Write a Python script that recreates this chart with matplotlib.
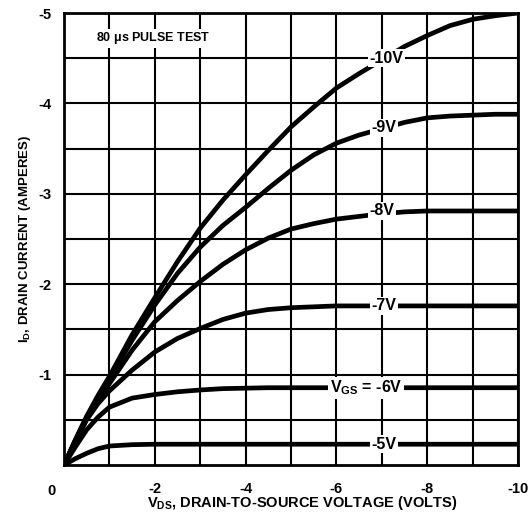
import matplotlib.pyplot as plt

plt.rcParams['font.family'] = ['Liberation Sans Narrow', 'Liberation Sans', 'DejaVu Sans']
plt.rcParams['font.weight'] = 'bold'
plt.rcParams['mathtext.default'] = 'regular'

# drain-source voltage (V) and drain current (A) for each gate voltage
vds = [0, -0.25, -0.5, -0.75, -1, -1.5, -2, -2.5, -3, -3.5, -4, -4.5, -5,
       -5.5, -6, -6.5, -7, -7.5, -8, -8.5, -9, -9.5, -10]
id_5v = [0, -0.07, -0.13, -0.18, -0.21, -0.225, -0.23, -0.23, -0.23, -0.23, -0.23, -0.23,
         -0.23, -0.23, -0.23, -0.23, -0.23, -0.23, -0.23, -0.23, -0.23, -0.23, -0.23]
id_6v = [0, -0.2, -0.39, -0.53, -0.64, -0.74, -0.78, -0.81, -0.83, -0.845, -0.85, -0.855,
         -0.855, -0.855, -0.855, -0.855, -0.855, -0.855, -0.855, -0.855, -0.855, -0.855, -0.855]
id_7v = [0, -0.26, -0.5, -0.68, -0.82, -1.05, -1.25, -1.40, -1.51, -1.61, -1.68, -1.72,
         -1.74, -1.75, -1.76, -1.76, -1.76, -1.76, -1.76, -1.76, -1.76, -1.76, -1.76]
id_8v = [0, -0.27, -0.52, -0.72, -0.9, -1.27, -1.585, -1.82, -2.03, -2.22, -2.38, -2.51,
         -2.61, -2.67, -2.72, -2.75, -2.78, -2.80, -2.81, -2.81, -2.81, -2.81, -2.81]
id_9v = [0, -0.27, -0.53, -0.75, -0.95, -1.38, -1.77, -2.12, -2.41, -2.65, -2.85, -3.06,
         -3.26, -3.43, -3.56, -3.65, -3.72, -3.79, -3.84, -3.86, -3.87, -3.88, -3.88]
id_10v = [0, -0.28, -0.54, -0.77, -0.98, -1.44, -1.85, -2.25, -2.62, -2.93, -3.21, -3.48,
          -3.74, -3.96, -4.17, -4.33, -4.48, -4.63, -4.75, -4.86, -4.93, -4.97, -5.0]

curves = [id_5v, id_6v, id_7v, id_8v, id_9v, id_10v]
labels = ['-5V', 'V$_{GS}$ = -6V', '-7V', '-8V', '-9V', '-10V']
label_x = [-7.05, -7.45, -7.05, -7.0, -7.05, -7.1]
label_y = [-0.23, -0.855, -1.76, -2.81, -3.73, -4.5]

x_ticks = [-1, -2, -3, -4, -5, -6, -7, -8, -9, -10]
x_ticklabels = ['', '-2', '', '-4', '', '-6', '', '-8', '', '-10']
y_ticks = [-0.5, -1, -1.5, -2, -2.5, -3, -3.5, -4, -4.5, -5]
y_ticklabels = ['', '-1', '', '-2', '', '-3', '', '-4', '', '-5']

fig = plt.figure(figsize=(5.32, 5.14), dpi=100)
ax = fig.add_axes([0.1203, 0.0953, 0.8534, 0.8794])

# grid drawn by hand at the tick positions
for xv in x_ticks:
    ax.plot([xv, xv], [0, -5], color='black', linewidth=1.5, zorder=2,
            solid_capstyle='butt')
for yv in y_ticks:
    ax.plot([0, -10], [yv, yv], color='black', linewidth=1.5, zorder=2,
            solid_capstyle='butt')

for cur in curves:
    ax.plot(vds, cur, color='black', linewidth=3.4, solid_capstyle='butt',
            solid_joinstyle='round', zorder=3)

for lab, lx, ly in zip(labels, label_x, label_y):
    ha = 'right' if 'GS' in lab else 'center'
    ax.text(lx, ly, lab, ha=ha, va='center', fontsize=11.5, weight='bold',
            bbox=dict(facecolor='white', edgecolor='none', pad=1.0), zorder=4)

ax.text(-0.7, -4.72, '80 $\\mu$s PULSE TEST', ha='left', va='center',
        fontsize=9, weight='bold', zorder=4,
        bbox=dict(facecolor='white', edgecolor='none', pad=1.0))

ax.set_xlim(0, -10)
ax.set_ylim(0, -5)
ax.set_xticks(x_ticks)
ax.set_xticklabels(x_ticklabels)
ax.set_yticks(y_ticks)
ax.set_yticklabels(y_ticklabels)
ax.xaxis.set_tick_params(length=0, labelsize=10.5, pad=12)
ax.yaxis.set_tick_params(length=0, labelsize=10.5, pad=9)
for t in ax.get_xticklabels() + ax.get_yticklabels():
    t.set_fontweight('bold')
for s in ax.spines.values():
    s.set_linewidth(2)
    s.set_zorder(5)

ax.annotate('0', xy=(0, 0), xytext=(-9, -18.5), textcoords='offset points',
            ha='center', va='center', fontsize=10.5, weight='bold')

ax.set_xlabel('V$_{DS}$, DRAIN-TO-SOURCE VOLTAGE (VOLTS)', fontsize=10.5,
              weight='bold', labelpad=-1, x=0.524)
ax.set_ylabel('I$_{D}$, DRAIN CURRENT (AMPERES)', fontsize=9.5,
              weight='bold', labelpad=4)

fig.savefig('out.png', dpi=100)
